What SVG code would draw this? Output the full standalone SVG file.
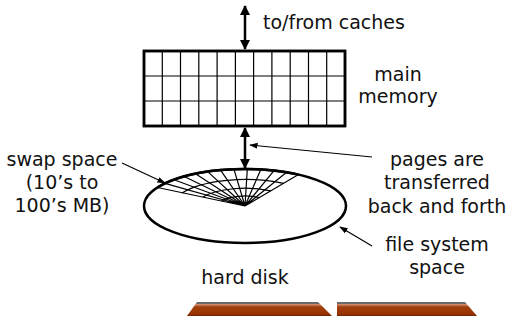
<svg xmlns="http://www.w3.org/2000/svg" width="509" height="320" viewBox="0 0 509 320">
  <style>
    text { font-family: "DejaVu Sans", Verdana, sans-serif; font-size: 19px; fill: #111; text-anchor: middle; }
    .grid { stroke: #000; stroke-width: 1.2; fill: none; }
    .frame { stroke: #000; stroke-width: 2.5; fill: #fff; }
    .bus { stroke: #000; stroke-width: 2.5; fill: none; }
    .ptr { stroke: #000; stroke-width: 1.2; fill: none; }
  </style>
  <defs>
    <marker id="head" viewBox="0 0 10 10" refX="9" refY="5" markerWidth="4" markerHeight="4" orient="auto-start-reverse">
      <path d="M0,0 L10,5 L0,10 z" fill="#000"/>
    </marker>
    <marker id="tip" viewBox="0 0 10 10" refX="9" refY="5" markerWidth="7" markerHeight="7" orient="auto">
      <path d="M0,1.5 L10,5 L0,8.5 z" fill="#000"/>
    </marker>
    <linearGradient id="brick" x1="0" y1="0" x2="0" y2="1">
      <stop offset="0" stop-color="#6a6a6a"/>
      <stop offset="0.12" stop-color="#6a6a6a"/>
      <stop offset="0.18" stop-color="#d08a6a"/>
      <stop offset="0.35" stop-color="#a0400e"/>
      <stop offset="0.85" stop-color="#993300"/>
      <stop offset="1" stop-color="#6e2400"/>
    </linearGradient>
  </defs>

  <!-- main memory: 11 x 3 page frames -->
  <g id="memory">
    <rect class="frame" x="144" y="51" width="201" height="75"/>
    <path class="grid" d="M144,76 H345 M144,101 H345
      M162.3,51 V126 M180.5,51 V126 M198.8,51 V126 M217.1,51 V126 M235.4,51 V126
      M253.6,51 V126 M271.9,51 V126 M290.2,51 V126 M308.5,51 V126 M326.7,51 V126"/>
    <rect x="144" y="51" width="201" height="75" fill="none" stroke="#000" stroke-width="2.5"/>
  </g>

  <!-- hard disk platter with swap-space sector -->
  <g id="disk">
    <ellipse cx="245" cy="206" rx="101" ry="37" fill="#fff" stroke="#000" stroke-width="2.5"/>
    <g class="grid">
      <path d="M245,206 L298.5,174.6 M245,206 L286.6,172.3 M245,206 L274,170.6 M245,206 L260.8,169.5
        M245,206 L247.3,169 M245,206 L233.9,169.2 M245,206 L220.6,170.1 M245,206 L207.7,171.6
        M245,206 L195.5,173.7 M245,206 L184.2,176.5 M245,206 L174,179.7 M245,206 L165,183.4 M245,206 L157.5,187.5"/>
      <path d="M283.5,183.4 A72.7,26.6 0 0 0 182,193"/>
      <path d="M270.7,190.9 A48.5,17.8 0 0 0 203,197.1"/>
      <path d="M259.5,197.5 A27.3,10 0 0 0 221.4,201"/>
    </g>
    <path d="M157.5,187.5 A101,37 0 0 1 298.5,174.6" fill="none" stroke="#000" stroke-width="2.5"/>
  </g>

  <g id="label-caches"><text x="334" y="29">to/from caches</text></g>
  <g id="label-memory"><text x="398" y="81">main</text><text x="398" y="103">memory</text></g>
  <g id="label-swap"><text x="62" y="166">swap space</text><text x="62" y="189">(10’s to</text><text x="62" y="212">100’s MB)</text></g>
  <g id="label-pages"><text x="437" y="166">pages are</text><text x="437" y="189">transferred</text><text x="437" y="213">back and forth</text></g>
  <g id="label-fs"><text x="437" y="251">file system</text><text x="437" y="274">space</text></g>
  <g id="label-disk"><text x="245" y="284">hard disk</text></g>

  <!-- connectors -->
  <g id="connectors">
    <line class="bus" x1="245" y1="6" x2="245" y2="49" marker-start="url(#head)" marker-end="url(#head)"/>
    <line class="bus" x1="245" y1="128" x2="245" y2="168" marker-start="url(#head)" marker-end="url(#head)"/>
    <line class="ptr" x1="372" y1="157" x2="250" y2="145" marker-end="url(#tip)"/>
    <line class="ptr" x1="122" y1="163" x2="165" y2="183" marker-end="url(#tip)"/>
    <line class="ptr" x1="372" y1="246" x2="340" y2="227" marker-end="url(#tip)"/>
  </g>

  <!-- decorative footer bars -->
  <g id="footer">
    <polygon points="197,302 318,302 332,316 187,316" fill="url(#brick)"/>
    <polygon points="337,302 465,302 477,316 337,316" fill="url(#brick)"/>
  </g>
</svg>
